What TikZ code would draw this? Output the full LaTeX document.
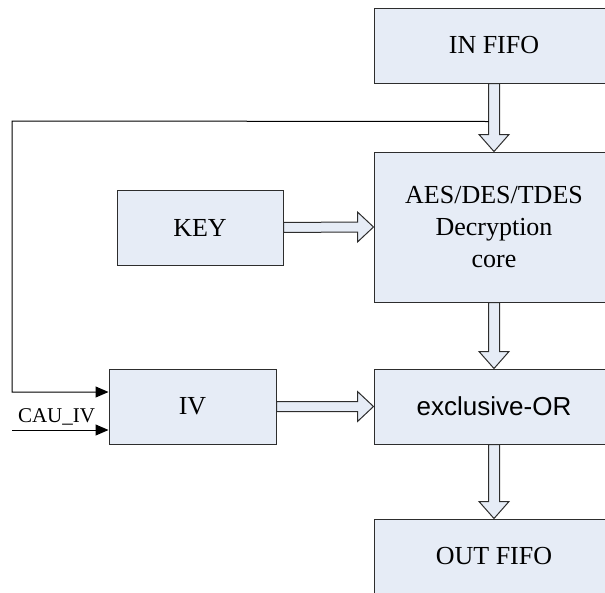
\documentclass[tikz,border=0pt]{standalone}
\usepackage{fontspec}
\setmainfont{Liberation Serif}
\setsansfont{Liberation Sans}
\usetikzlibrary{positioning, calc, arrows.meta}
\usepackage{xcolor}
\definecolor{boxfill}{RGB}{230,236,246}
\definecolor{inkline}{RGB}{45,45,45}

% hollow block arrows between two boxes
\newcommand{\flowdown}[2]{%
  \draw[flow] ($(#1.south)+(-5.5,0)$) -- ($(#2.north)+(-5.5,-17)$)
    -- ($(#2.north)+(-15,-17)$) -- (#2.north) -- ($(#2.north)+(15,-17)$)
    -- ($(#2.north)+(5.5,-17)$) -- ($(#1.south)+(5.5,0)$) -- cycle;}
\newcommand{\flowright}[2]{%
  \draw[flow] ($(#1.east)+(0,-5)$) -- ($(#2.west)+(-16,-5)$)
    -- ($(#2.west)+(-16,-15)$) -- (#2.west) -- ($(#2.west)+(-16,15)$)
    -- ($(#2.west)+(-16,5)$) -- ($(#1.east)+(0,5)$) -- cycle;}

\begin{document}
\begin{tikzpicture}[x=1pt, y=-1pt,
    box/.style={draw=inkline, fill=boxfill, line width=1pt, inner sep=0pt,
      minimum width=240pt, minimum height=75pt, align=center,
      font=\fontsize{26}{32}\selectfont},
    smallbox/.style={box, minimum width=166pt},
    flow/.style={draw=inkline, fill=boxfill, line width=1pt, line join=miter},
    wire/.style={black, line width=1pt, -{Triangle[length=13pt, width=11pt]}}
]
\useasboundingbox (0,0) rectangle (605,592);
\clip (0,0) rectangle (605,592);

% ============ datapath (right column) ============
\node[box] (infifo)  at (494, 45.5)  {IN FIFO};
\node[box, minimum height=150pt] (core) at (494, 227) {AES/DES/TDES\\Decryption\\core};
\node[box, font=\fontsize{26}{32}\selectfont\sffamily] (xor) at (494, 406.5) {exclusive-OR};
\node[box] (outfifo) at (494, 556.5) {OUT FIFO};

% ============ side inputs ============
\node[smallbox] (key) at (200, 227.5) {KEY};
\node[smallbox, minimum width=167pt] (iv) at (192.5, 406.5) {IV};

% Block arrows
\flowdown{infifo}{core}
\flowdown{core}{xor}
\flowdown{xor}{outfifo}
\flowright{key}{core}
\flowright{iv}{xor}

% Feedback of the ciphertext into IV
\coordinate (tap)  at ($(infifo.south)+(-5.5,38)$);
\coordinate (bend) at (12, 121);
\draw[wire] (tap) -- (bend) |- ($(iv.west)+(0,-14.5)$);

% External IV input
\coordinate (cauin) at (12, 430);
\draw[wire] (cauin) -- (cauin -| iv.west);
\node[anchor=base, font=\fontsize{21}{24}\selectfont] (caulabel) at (56.5, 422) {CAU\_IV};

\end{tikzpicture}
\end{document}
